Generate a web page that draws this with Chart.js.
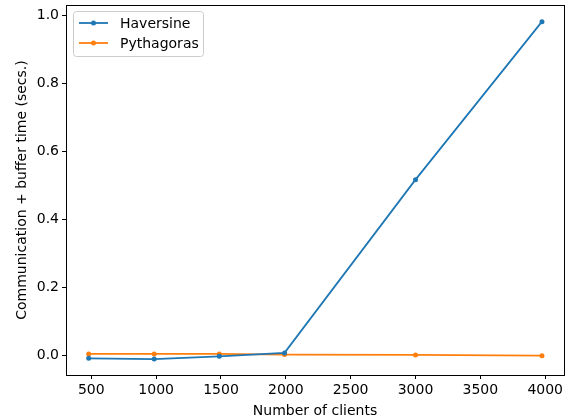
<!DOCTYPE html>
<html>
<head>
<meta charset="utf-8">
<script src="https://cdn.jsdelivr.net/npm/chart.js@4/dist/chart.umd.min.js"></script>
<style>
  body { margin: 0; background: #fff; }
  #wrap { width: 570px; height: 420px; }
</style>
</head>
<body>
<div id="wrap"><canvas id="chart" width="570" height="420"></canvas></div>
<script>
// Nombre de clients
const clients = [480, 985, 1487, 1990, 3000, 3975];
const haversine = [-0.009, -0.011, -0.003, 0.007, 0.517, 0.982];
const pythagoras = [0.004, 0.004, 0.004, 0.002, 0.001, -0.001];
const xTicks = [500, 1000, 1500, 2000, 2500, 3000, 3500, 4000];
const yTicks = [0.0, 0.2, 0.4, 0.6, 0.8, 1.0];

const blue = '#1f77b4';
const orange = '#ff7f0e';
const font = { family: 'DejaVu Sans', size: 14 };

const toPoints = ys => clients.map((x, i) => ({ x: x, y: ys[i] }));

// Cadre noir + légende dans la zone du graphe
const framePlugin = {
    id: 'frame',
    afterDraw(chart) {
        const { ctx, chartArea: a } = chart;
        ctx.save();
        ctx.strokeStyle = '#000';
        ctx.lineWidth = 1;
        ctx.strokeRect(a.left + 0.5, a.top + 0.5, a.right - a.left, a.bottom - a.top);

        // légende
        const bx = a.left + 7, by = a.top + 6, bw = 130, bh = 45;
        ctx.fillStyle = 'rgba(255,255,255,0.8)';
        ctx.strokeStyle = '#cccccc';
        ctx.beginPath();
        ctx.roundRect(bx + 0.5, by + 0.5, bw, bh, 3);
        ctx.fill();
        ctx.stroke();

        const items = [['Haversine', blue], ['Pythagoras', orange]];
        items.forEach(([label, color], i) => {
            const y = by + 12 + i * 20;
            ctx.strokeStyle = color;
            ctx.lineWidth = 1.8;
            ctx.beginPath();
            ctx.moveTo(bx + 6, y);
            ctx.lineTo(bx + 35, y);
            ctx.stroke();
            ctx.fillStyle = color;
            ctx.beginPath();
            ctx.arc(bx + 20.5, y, 2.5, 0, Math.PI * 2);
            ctx.fill();
            ctx.fillStyle = '#000';
            ctx.font = '14px "DejaVu Sans"';
            ctx.textBaseline = 'middle';
            ctx.fillText(label, bx + 47, y + 1);
        });
        ctx.restore();
    }
};

const data = {
    datasets: [
        {
            label: 'Haversine',
            data: toPoints(haversine),
            borderColor: blue,
            backgroundColor: blue,
            borderWidth: 1.8,
            pointRadius: 2.5,
            pointBorderWidth: 0,
            tension: 0
        },
        {
            label: 'Pythagoras',
            data: toPoints(pythagoras),
            borderColor: orange,
            backgroundColor: orange,
            borderWidth: 1.8,
            pointRadius: 2.5,
            pointBorderWidth: 0,
            tension: 0
        }
    ]
};

const options = {
    responsive: false,
    animation: false,
    layout: { padding: { top: 5, right: 6, left: 14, bottom: 0 } },
    plugins: {
        legend: { display: false },
        tooltip: { enabled: false }
    },
    scales: {
        x: {
            type: 'linear',
            min: 305,
            max: 4145,
            afterBuildTicks: s => { s.ticks = xTicks.map(v => ({ value: v })); },
            afterFit: s => { s.height = 45; s.paddingLeft = 0; s.paddingRight = 0; },
            grid: { display: true, drawOnChartArea: false, drawTicks: true, tickLength: 4, color: '#000' },
            border: { display: false },
            ticks: { color: '#000', font: font, padding: 3, maxRotation: 0, callback: v => String(v) },
            title: { display: true, text: 'Number of clients', color: '#000', font: font, padding: { top: 1, bottom: 0 } }
        },
        y: {
            type: 'linear',
            min: -0.058,
            max: 1.031,
            afterBuildTicks: s => { s.ticks = yTicks.map(v => ({ value: v })); },
            afterFit: s => { s.width = 52; s.paddingTop = 0; s.paddingBottom = 0; },
            grid: { display: true, drawOnChartArea: false, drawTicks: true, tickLength: 4, color: '#000' },
            border: { display: false },
            ticks: { color: '#000', font: font, padding: 3, callback: v => v.toFixed(1) },
            title: { display: true, text: 'Communication + buffer time (secs.)', color: '#000', font: font, padding: { top: 0, bottom: 0 } }
        }
    }
};

new Chart('chart', { type: 'line', data, options, plugins: [framePlugin] });
</script>
</body>
</html>
